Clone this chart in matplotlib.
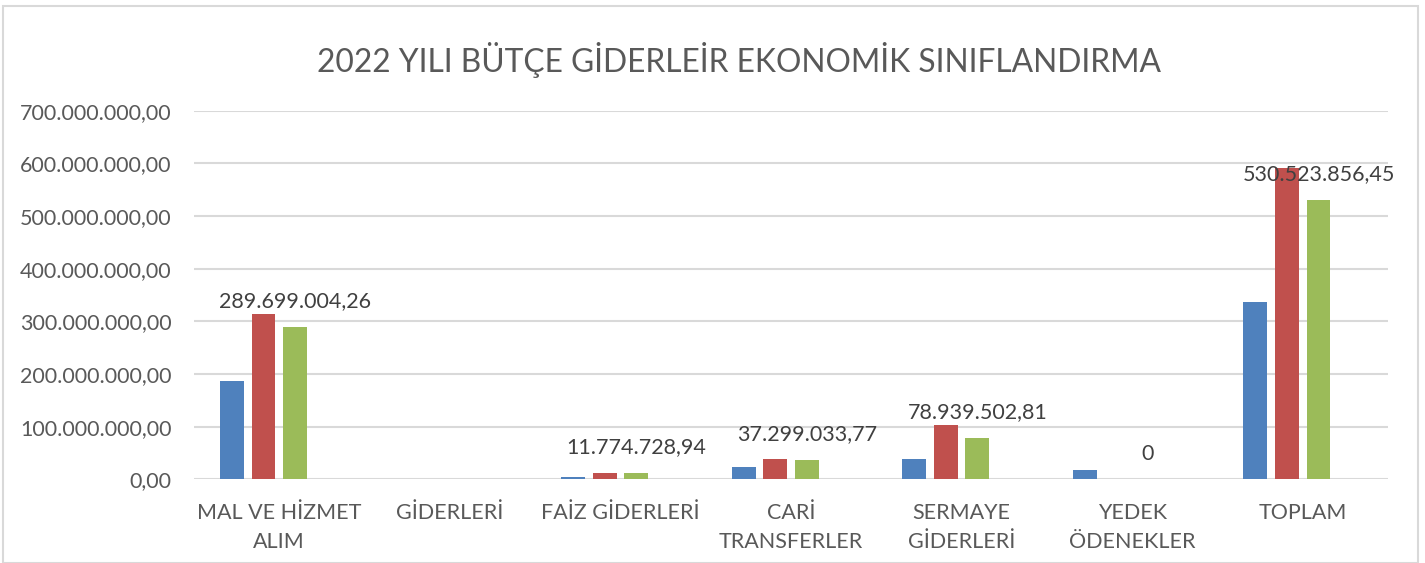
import numpy as np
import matplotlib
matplotlib.use("Agg")
import matplotlib.pyplot as plt
from matplotlib.patches import Rectangle

title = "2022 YILI BÜTÇE GİDERLEİR EKONOMİK SINIFLANDIRMA"
categories = ["MAL VE HİZMET\nALIM", "GİDERLERİ", "FAİZ GİDERLERİ", "CARİ\nTRANSFERLER",
              "SERMAYE\nGİDERLERİ", "YEDEK\nÖDENEKLER", "TOPLAM"]
series_1 = [187e6, np.nan, 5e6, 23e6, 38e6, 17e6, 336e6]
series_2 = [313e6, np.nan, 12.5e6, 38.5e6, 103e6, 0, 592e6]
series_3 = [289699004.26, np.nan, 11774728.94, 37299033.77, 78939502.81, 0, 530523856.45]
series_4 = [np.nan] * 7  # empty slot in the original chart
colors = ["#4F81BD", "#C0504D", "#9BBB59", "#8064A2"]
yticks = [0, 100e6, 200e6, 300e6, 400e6, 500e6, 600e6, 700e6]

def tr_format(v, decimals=2):
    s = f"{v:,.{decimals}f}"
    return s.replace(",", "X").replace(".", ",").replace("X", ".")

plt.rcParams['font.family'] = ['Lato', 'DejaVu Sans']

fig = plt.figure(figsize=(14.25, 5.63), dpi=100)
W, H = 1425, 563
fig.patches.append(Rectangle((3 / W, 0), (1418 - 3) / W, 1 - 6 / H, transform=fig.transFigure,
                             fill=False, edgecolor="#D9D9D9", linewidth=1.5))

ax = fig.add_axes([194 / W, 1 - 479.3 / H, (1388 - 194) / W, (479.3 - 110.7) / H])

x = np.arange(len(categories))
step = 0.185
width = 0.14
all_series = [series_1, series_2, series_3, series_4]
for i, s in enumerate(all_series):
    ax.bar(x + (i - 1.5) * step, s, width, color=colors[i], zorder=3)

for xi, v in zip(x, series_3):
    if np.isnan(v):
        continue
    lab = "0" if v == 0 else tr_format(v)
    ax.annotate(lab, (xi + 0.5 * step, v), xytext=(0, 18.5), textcoords="offset points",
                ha="center", va="center", fontsize=15.5, color="#404040", zorder=5)

ax.set_xlim(-0.5, len(categories) - 0.5)
ax.set_ylim(0, 700e6)
ax.set_yticks(yticks)
ax.set_yticklabels([tr_format(v) for v in yticks])
ax.set_xticks(x)
ax.set_xticklabels(categories, linespacing=1.55)
ax.tick_params(axis="y", length=0, pad=16, labelsize=15.5, labelcolor="#595959")
ax.tick_params(axis="x", length=0, pad=17, labelsize=15.5, labelcolor="#595959")
for lab in ax.get_xticklabels():
    lab.set_verticalalignment("top")
ax.grid(axis="y", color="#D9D9D9", linewidth=1.5, zorder=0)
ax.set_axisbelow(True)
for sp in ax.spines.values():
    sp.set_visible(False)

fig.text(739 / W, 1 - 60 / H, title, ha="center", va="center", fontsize=22.9, color="#595959")

fig.savefig("out.png", dpi=100)
